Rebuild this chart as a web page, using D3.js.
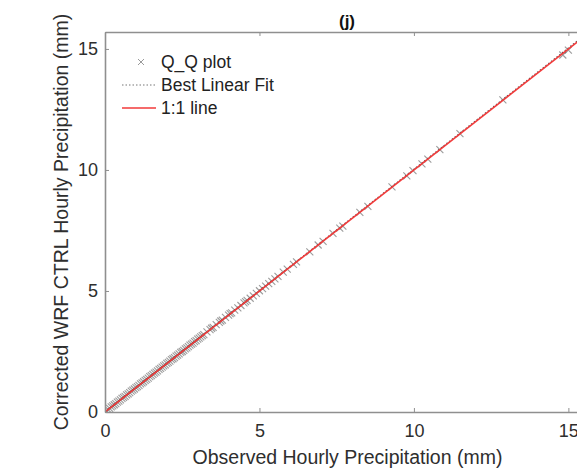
<!DOCTYPE html>
<html>
<head>
<meta charset="utf-8">
<script src="https://cdn.jsdelivr.net/npm/d3@7"></script>
<style>
html,body{margin:0;padding:0;background:#fff;overflow:hidden;}
svg{display:block;font-family:"Liberation Sans",Arial,sans-serif;}
</style>
</head>
<body>
<svg id="chart" width="577" height="469"></svg>
<script>
// ---- data ----
const observed = [0,0.05,0.1,0.15,0.2,0.25,0.3,0.35,0.4,0.45,0.5,0.55,0.6,0.65,0.7,0.75,0.8,0.85,0.9,0.95,
  1.0,1.05,1.1,1.15,1.2,1.25,1.3,1.35,1.4,1.45,1.5,1.55,1.6,1.65,1.7,1.75,1.8,1.85,1.9,1.95,
  2.0,2.05,2.1,2.15,2.2,2.25,2.3,2.35,2.4,2.45,2.5,2.55,2.6,2.65,2.7,2.75,2.8,2.85,2.9,2.95,
  3.0,3.05,3.1,3.15,3.2,3.3,3.4,3.45,3.5,3.6,3.7,3.75,3.8,3.9,4.0,4.05,4.1,4.2,4.3,4.4,
  4.5,4.55,4.6,4.7,4.8,4.9,5.0,5.1,5.2,5.3,5.4,5.5,5.6,5.77,5.9,6.1,6.2,6.63,6.9,7.06,
  7.38,7.6,7.7,8.25,8.51,9.29,9.77,9.97,10.26,10.45,10.84,11.49,12.88,14.82,15.0];
const corrected = [0,0.05,0.1,0.15,0.21,0.25,0.3,0.35,0.41,0.45,0.5,0.56,0.6,0.65,0.71,0.75,0.8,0.86,0.9,0.95,
  1.01,1.05,1.1,1.16,1.2,1.25,1.31,1.35,1.4,1.46,1.5,1.55,1.61,1.65,1.7,1.76,1.8,1.85,1.91,1.95,
  2.01,2.05,2.1,2.16,2.2,2.25,2.31,2.35,2.4,2.46,2.5,2.55,2.61,2.65,2.7,2.76,2.8,2.85,2.91,2.95,
  3.01,3.05,3.1,3.16,3.2,3.31,3.4,3.46,3.5,3.61,3.7,3.76,3.8,3.91,4.0,4.06,4.1,4.21,4.3,4.4,
  4.51,4.56,4.61,4.7,4.8,4.9,5.01,5.1,5.2,5.3,5.4,5.5,5.6,5.78,5.9,6.1,6.2,6.62,6.9,7.05,
  7.38,7.6,7.68,8.25,8.5,9.3,9.76,9.97,10.25,10.45,10.84,11.5,12.9,14.75,14.95];
const xTicks = [0,5,10,15];
const yTicks = [0,5,10,15];
const axisMax = 15.7;
const fitSlope = 1.002, fitIntercept = 0.01;
const legendLabels = ["Q_Q plot","Best Linear Fit","1:1 line"];
const titleText = "(j)";
const xLabel = "Observed Hourly Precipitation (mm)";
const yLabel = "Corrected WRF CTRL Hourly Precipitation (mm)";

// ---- layout ----
const L = 105, T = 32, R = 590, B = 412;
const svg = d3.select("#chart");
const x = d3.scaleLinear().domain([0, axisMax]).range([L, R]);
const y = d3.scaleLinear().domain([0, axisMax]).range([B, T]);
const axisColor = "#8f8f8f", textColor = "#2e2e2e";
const font = "'Liberation Sans',Arial,sans-serif";

svg.append("defs").append("clipPath").attr("id","clip")
  .append("rect").attr("x",L).attr("y",T).attr("width",R-L).attr("height",B-T);

const plot = svg.append("g").attr("clip-path","url(#clip)");

// markers
const ms = 3.5;
plot.append("g").selectAll("path").data(observed.map((o,i)=>[o,corrected[i]]))
  .join("path")
  .attr("d", d => {
    const cx = x(d[0]), cy = y(d[1]);
    return `M${cx-ms},${cy-ms}L${cx+ms},${cy+ms}M${cx-ms},${cy+ms}L${cx+ms},${cy-ms}`;
  })
  .attr("stroke","#3a3a3a").attr("stroke-opacity",0.5).attr("stroke-width",1.1).attr("fill","none");

// best linear fit
plot.append("line")
  .attr("x1", x(0)).attr("y1", y(fitIntercept))
  .attr("x2", x(axisMax)).attr("y2", y(fitIntercept + fitSlope*axisMax))
  .attr("stroke","#555").attr("stroke-width",1.2).attr("stroke-dasharray","1.5,2");

// 1:1 line
plot.append("line")
  .attr("x1", x(0)).attr("y1", y(0))
  .attr("x2", x(axisMax)).attr("y2", y(axisMax))
  .attr("stroke","#f23a3a").attr("stroke-width",1.6);

// axes
const xAxis = svg.append("g").attr("transform",`translate(0,${B})`)
  .call(d3.axisBottom(x).tickValues(xTicks).tickFormat(d3.format("d")).tickSizeInner(-4).tickSizeOuter(0).tickPadding(12));
const xTop = svg.append("g").attr("transform",`translate(0,${T})`)
  .call(d3.axisTop(x).tickValues(xTicks).tickFormat("").tickSizeInner(-4).tickSizeOuter(0));
const yAxis = svg.append("g").attr("transform",`translate(${L},0)`)
  .call(d3.axisLeft(y).tickValues(yTicks).tickFormat(d3.format("d")).tickSizeInner(-4).tickSizeOuter(0).tickPadding(7));
const yRight = svg.append("g").attr("transform",`translate(${R},0)`)
  .call(d3.axisRight(y).tickValues(yTicks).tickFormat("").tickSizeInner(-4).tickSizeOuter(0));
[xAxis,xTop,yAxis,yRight].forEach(g=>{
  g.select(".domain").attr("stroke",axisColor).attr("stroke-width",1.6);
  g.selectAll(".tick line").attr("stroke",axisColor).attr("stroke-width",1);
  g.selectAll(".tick text").attr("fill",textColor).style("font-size","18px").style("font-family",font);
});

// title
svg.append("text").attr("x",347).attr("y",27).attr("text-anchor","middle")
  .attr("fill","#111").style("font-size","17px").style("font-weight","bold").text(titleText);

// axis labels
svg.append("text").attr("x",(L+R)/2).attr("y",464).attr("text-anchor","middle")
  .attr("fill",textColor).style("font-size","19.5px").text(xLabel);
svg.append("text").attr("transform",`translate(68,${(T+B)/2}) rotate(-90)`).attr("text-anchor","middle")
  .attr("fill",textColor).style("font-size","19.5px").text(yLabel);

// legend
const lg = svg.append("g");
const lx1 = 122, lx2 = 156, ltx = 161, ly = [62, 85, 108];
const mx = (lx1+lx2)/2 + 2;
lg.append("path")
  .attr("d", `M${mx-3},${ly[0]-3}L${mx+3},${ly[0]+3}M${mx-3},${ly[0]+3}L${mx+3},${ly[0]-3}`)
  .attr("stroke","#9a9a9a").attr("stroke-width",1);
lg.append("line").attr("x1",lx1).attr("x2",lx2).attr("y1",ly[1]).attr("y2",ly[1])
  .attr("stroke","#777").attr("stroke-width",1.2).attr("stroke-dasharray","1.5,2");
lg.append("line").attr("x1",lx1).attr("x2",lx2).attr("y1",ly[2]).attr("y2",ly[2])
  .attr("stroke","#f23a3a").attr("stroke-width",1.6);
lg.selectAll("text").data(legendLabels).join("text")
  .attr("x",ltx).attr("y",(d,i)=>ly[i]).attr("dy","0.35em")
  .attr("fill","#222").style("font-size","17.5px").text(d=>d);
</script>
</body>
</html>
